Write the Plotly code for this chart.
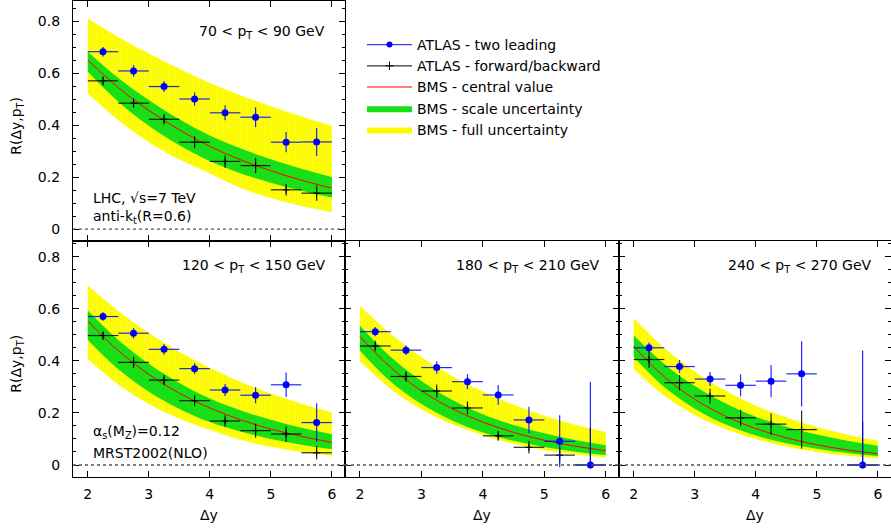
import plotly.graph_objects as go

# ---------------- data ----------------
DY = [2.25, 2.75, 3.25, 3.75, 4.25, 4.75, 5.25, 5.75]
DY_HALF = [0.25, 0.25, 0.25, 0.25, 0.25, 0.25, 0.25, 0.25]
THEORY_DY = [2.0, 2.5, 3.0, 3.5, 4.0, 4.5, 5.0, 5.5, 6.0]

X_TICKS = [2, 3, 4, 5, 6]
X_TICK_LABELS = ["2", "3", "4", "5", "6"]
Y_TICKS = [0, 0.2, 0.4, 0.6, 0.8]
Y_TICK_LABELS = ["0", "0.2", "0.4", "0.6", "0.8"]

PT_LABELS = ["70 < p<sub>T</sub> < 90 GeV", "120 < p<sub>T</sub> < 150 GeV",
             "180 < p<sub>T</sub> < 210 GeV", "240 < p<sub>T</sub> < 270 GeV"]

# 70 < pT < 90
lead_70 = [0.682, 0.608, 0.548, 0.500, 0.447, 0.430, 0.334, 0.335]
lead_70_up = [0.018, 0.022, 0.021, 0.026, 0.029, 0.038, 0.039, 0.054]
lead_70_dn = [0.018, 0.022, 0.021, 0.026, 0.029, 0.038, 0.039, 0.054]
fb_70 = [0.570, 0.484, 0.422, 0.334, 0.260, 0.244, 0.151, 0.138]
fb_70_up = [0.018, 0.018, 0.020, 0.023, 0.024, 0.029, 0.022, 0.029]
fb_70_dn = [0.018, 0.018, 0.020, 0.023, 0.024, 0.029, 0.022, 0.029]
bms_70 = [0.650, 0.544, 0.456, 0.382, 0.318, 0.267, 0.224, 0.188, 0.157]
scale_hi_70 = [0.682, 0.581, 0.496, 0.422, 0.360, 0.311, 0.268, 0.232, 0.200]
scale_lo_70 = [0.605, 0.490, 0.397, 0.322, 0.261, 0.215, 0.178, 0.147, 0.121]
full_hi_70 = [0.810, 0.739, 0.675, 0.616, 0.562, 0.515, 0.472, 0.433, 0.397]
full_lo_70 = [0.522, 0.418, 0.334, 0.268, 0.214, 0.159, 0.119, 0.0885, 0.066]

# 120 < pT < 150
lead_120 = [0.570, 0.506, 0.444, 0.370, 0.288, 0.268, 0.308, 0.163]
lead_120_up = [0.016, 0.020, 0.021, 0.021, 0.023, 0.031, 0.047, 0.074]
lead_120_dn = [0.016, 0.020, 0.021, 0.021, 0.023, 0.031, 0.047, 0.074]
fb_120 = [0.497, 0.394, 0.326, 0.247, 0.169, 0.132, 0.119, 0.047]
fb_120_up = [0.017, 0.022, 0.020, 0.021, 0.022, 0.027, 0.031, 0.026]
fb_120_dn = [0.017, 0.022, 0.020, 0.021, 0.022, 0.027, 0.031, 0.026]
bms_120 = [0.553, 0.439, 0.348, 0.276, 0.219, 0.174, 0.138, 0.110, 0.087]
scale_hi_120 = [0.593, 0.480, 0.389, 0.315, 0.255, 0.210, 0.1735, 0.143, 0.118]
scale_lo_120 = [0.480, 0.3675, 0.2814, 0.2155, 0.165, 0.1287, 0.1003, 0.0782, 0.061]
full_hi_120 = [0.689, 0.591, 0.507, 0.435, 0.373, 0.320, 0.2745, 0.2355, 0.202]
full_lo_120 = [0.407, 0.309, 0.2344, 0.1779, 0.135, 0.097, 0.0697, 0.0501, 0.036]

# 180 < pT < 210
lead_180 = [0.512, 0.441, 0.374, 0.320, 0.269, 0.173, 0.091, 0.0]
lead_180_up = [0.018, 0.019, 0.024, 0.029, 0.038, 0.051, 0.100, 0.320]
lead_180_dn = [0.018, 0.019, 0.024, 0.029, 0.038, 0.051, 0.100, 0.0]
fb_180 = [0.457, 0.340, 0.284, 0.219, 0.112, 0.068, 0.038, 0.0]
fb_180_up = [0.020, 0.020, 0.025, 0.025, 0.019, 0.024, 0.030, 0.145]
fb_180_dn = [0.020, 0.020, 0.025, 0.025, 0.019, 0.024, 0.030, 0.0]
bms_180 = [0.493, 0.375, 0.285, 0.2166, 0.1647, 0.1252, 0.0952, 0.0724, 0.055]
scale_hi_180 = [0.535, 0.4157, 0.323, 0.251, 0.195, 0.154, 0.1217, 0.0962, 0.076]
scale_lo_180 = [0.439, 0.3207, 0.2343, 0.1711, 0.125, 0.0928, 0.0689, 0.0512, 0.038]
full_hi_180 = [0.611, 0.5036, 0.415, 0.342, 0.282, 0.231, 0.1892, 0.155, 0.127]
full_lo_180 = [0.399, 0.2923, 0.2142, 0.157, 0.115, 0.0815, 0.0578, 0.0409, 0.029]

# 240 < pT < 270
lead_240 = [0.450, 0.378, 0.330, 0.306, 0.322, 0.350, None, 0.0]
lead_240_up = [0.020, 0.025, 0.027, 0.042, 0.062, 0.125, None, 0.440]
lead_240_dn = [0.020, 0.025, 0.027, 0.042, 0.062, 0.125, None, 0.0]
fb_240 = [0.405, 0.316, 0.265, 0.181, 0.157, 0.136, None, 0.0]
fb_240_up = [0.032, 0.029, 0.029, 0.031, 0.041, 0.073, None, 0.166]
fb_240_dn = [0.032, 0.029, 0.029, 0.031, 0.041, 0.073, None, 0.0]
bms_240 = [0.455, 0.3388, 0.2523, 0.1878, 0.1399, 0.1041, 0.0776, 0.0578, 0.043]
scale_hi_240 = [0.497, 0.3882, 0.3032, 0.2368, 0.185, 0.1471, 0.117, 0.0931, 0.074]
scale_lo_240 = [0.414, 0.2992, 0.2163, 0.1563, 0.113, 0.0837, 0.062, 0.0459, 0.034]
full_hi_240 = [0.563, 0.4491, 0.3583, 0.2858, 0.228, 0.1822, 0.1456, 0.1164, 0.093]
full_lo_240 = [0.369, 0.2662, 0.1921, 0.1386, 0.100, 0.0707, 0.050, 0.0354, 0.025]

panels = [
    dict(ax="", lead=lead_70, lup=lead_70_up, ldn=lead_70_dn, fb=fb_70, fup=fb_70_up, fdn=fb_70_dn,
         c=bms_70, shi=scale_hi_70, slo=scale_lo_70, fhi=full_hi_70, flo=full_lo_70),
    dict(ax="2", lead=lead_120, lup=lead_120_up, ldn=lead_120_dn, fb=fb_120, fup=fb_120_up, fdn=fb_120_dn,
         c=bms_120, shi=scale_hi_120, slo=scale_lo_120, fhi=full_hi_120, flo=full_lo_120),
    dict(ax="3", lead=lead_180, lup=lead_180_up, ldn=lead_180_dn, fb=fb_180, fup=fb_180_up, fdn=fb_180_dn,
         c=bms_180, shi=scale_hi_180, slo=scale_lo_180, fhi=full_hi_180, flo=full_lo_180),
    dict(ax="4", lead=lead_240, lup=lead_240_up, ldn=lead_240_dn, fb=fb_240, fup=fb_240_up, fdn=fb_240_dn,
         c=bms_240, shi=scale_hi_240, slo=scale_lo_240, fhi=full_hi_240, flo=full_lo_240),
]

YELLOW = "#ffff00"
GREEN = "#14e214"
RED = "#ff0000"
BLUE = "#0000ff"
FONT = "DejaVu Sans, Arial, sans-serif"

fig = go.Figure()

for i, p in enumerate(panels):
    xa, ya = "x" + p["ax"], "y" + p["ax"]
    first = (i == 0)
    # full uncertainty band
    fig.add_trace(go.Scatter(x=THEORY_DY, y=p["flo"], xaxis=xa, yaxis=ya, mode="lines",
                             line=dict(width=0, shape="spline", color=YELLOW), showlegend=False,
                             hoverinfo="skip"))
    fig.add_trace(go.Scatter(x=THEORY_DY, y=p["fhi"], xaxis=xa, yaxis=ya, mode="lines",
                             line=dict(width=0, shape="spline", color=YELLOW), fill="tonexty",
                             fillcolor=YELLOW,
                             fillpattern=dict(shape="|", size=3, solidity=0.3, fgcolor="#eaea3a",
                                              bgcolor=YELLOW),
                             name="BMS - full uncertainty", showlegend=first, legendrank=5))
    # scale uncertainty band
    fig.add_trace(go.Scatter(x=THEORY_DY, y=p["slo"], xaxis=xa, yaxis=ya, mode="lines",
                             line=dict(width=0, shape="spline", color=GREEN), showlegend=False,
                             hoverinfo="skip"))
    fig.add_trace(go.Scatter(x=THEORY_DY, y=p["shi"], xaxis=xa, yaxis=ya, mode="lines",
                             line=dict(width=0, shape="spline", color=GREEN), fill="tonexty",
                             fillcolor=GREEN,
                             fillpattern=dict(shape="|", size=3, solidity=0.3, fgcolor="#2ccc2c",
                                              bgcolor=GREEN),
                             name="BMS - scale uncertainty", showlegend=first, legendrank=4))
    # central value
    fig.add_trace(go.Scatter(x=THEORY_DY, y=p["c"], xaxis=xa, yaxis=ya, mode="lines",
                             line=dict(width=1, shape="spline", color=RED),
                             name="BMS - central value", showlegend=first, legendrank=3))
    # forward/backward
    fig.add_trace(go.Scatter(x=DY, y=p["fb"], xaxis=xa, yaxis=ya, mode="markers",
                             marker=dict(symbol="cross-thin", size=5, color="black",
                                         line=dict(width=1, color="black")),
                             error_x=dict(type="data", array=DY_HALF, width=0, thickness=1.2,
                                          color="rgba(0,0,0,0.85)"),
                             error_y=dict(type="data", array=p["fup"], arrayminus=p["fdn"], width=0,
                                          thickness=1.2, color="rgba(0,0,0,0.85)"),
                             showlegend=False))
    # two leading
    fig.add_trace(go.Scatter(x=DY, y=p["lead"], xaxis=xa, yaxis=ya, mode="markers",
                             marker=dict(symbol="circle", size=7, color=BLUE),
                             error_x=dict(type="data", array=DY_HALF, width=0, thickness=1.2,
                                          color="rgba(0,0,255,0.85)"),
                             error_y=dict(type="data", array=p["lup"], arrayminus=p["ldn"], width=0,
                                          thickness=1.2, color="rgba(0,0,255,0.85)"),
                             showlegend=False))

# legend-only entries for the data series
fig.add_trace(go.Scatter(x=[None], y=[None], mode="lines+markers", name="ATLAS - two leading",
                         line=dict(color="rgba(60,60,255,1)", width=1.2),
                         marker=dict(size=6, color=BLUE), legendrank=1))
fig.add_trace(go.Scatter(x=[None], y=[None], mode="lines+markers", name="ATLAS - forward/backward",
                         line=dict(color="#333333", width=1.2),
                         marker=dict(symbol="cross-thin", size=6, color="black",
                                     line=dict(width=1, color="black")), legendrank=2))

# ---------------- layout ----------------
W, H = 891, 528
ML, MB = 73, 51
PW, PH = W - ML, H - MB
c1 = (345 - ML) / PW
c2 = (619 - ML) / PW
r_mid = (PH - 241) / PH
r_top = (PH - 1) / PH

XR = [1.758, 6.215]
YR_TOP = [-0.046, 0.877]
YR_BOT = [-0.046, 0.860]

common = dict(showline=True, linecolor="black", linewidth=1.3, mirror="allticks",
              ticks="inside", ticklen=6, tickwidth=1, tickcolor="black",
              showgrid=False, zeroline=False,
              tickfont=dict(family=FONT, size=14, color="black"))

def xaxis(domain, anchor, labels):
    return dict(common, domain=domain, anchor=anchor, range=XR, tickmode="array",
                tickvals=X_TICKS, ticktext=X_TICK_LABELS, showticklabels=labels,
                ticklabelstandoff=4)

def yaxis(domain, anchor, labels, rng):
    return dict(common, domain=domain, anchor=anchor, range=rng, tickmode="array",
                tickvals=Y_TICKS, ticktext=Y_TICK_LABELS, showticklabels=labels,
                ticklabelstandoff=9,
                minor=dict(tickmode="linear", tick0=0, dtick=0.05, ticks="inside", ticklen=3,
                           tickcolor="black", showgrid=False))

fig.update_layout(
    width=W, height=H,
    margin=dict(l=ML, r=0, t=0, b=MB),
    paper_bgcolor="white", plot_bgcolor="white",
    font=dict(family=FONT, size=14, color="black"),
    xaxis=xaxis([0, c1], "y", False),
    yaxis=yaxis([r_mid, r_top], "x", True, YR_TOP),
    xaxis2=xaxis([0, c1], "y2", True),
    yaxis2=yaxis([0, r_mid], "x2", True, YR_BOT),
    xaxis3=xaxis([c1, c2], "y3", True),
    yaxis3=yaxis([0, r_mid], "x3", False, YR_BOT),
    xaxis4=xaxis([c2, 1], "y4", True),
    yaxis4=yaxis([0, r_mid], "x4", False, YR_BOT),
    legend=dict(x=(362 - ML) / PW, y=(PH - 29) / PH, xanchor="left", yanchor="top",
                bgcolor="rgba(0,0,0,0)", font=dict(family=FONT, size=14, color="black"),
                tracegroupgap=0, traceorder="normal", itemwidth=45),
    showlegend=True,
)

shapes = []
annotations = []
for i, p in enumerate(panels):
    ax = p["ax"]
    shapes.append(dict(type="line", xref="x%s domain" % ax, yref="y" + ax, x0=0, x1=1, y0=0, y1=0,
                       line=dict(color="#555555", width=1.3, dash="dot"), layer="above"))
    annotations.append(dict(text=PT_LABELS[i], xref="x%s domain" % ax, yref="y%s domain" % ax,
                            x=0.935, y=0.895 if i else 0.872, xanchor="right", yanchor="middle",
                            showarrow=False, font=dict(family=FONT, size=14, color="black")))

txt = dict(showarrow=False, xanchor="left", yanchor="middle", font=dict(family=FONT, size=14, color="black"))
annotations += [
    dict(txt, text="LHC, √s=7 TeV", xref="x domain", yref="y", x=0.065, y=0.12),
    dict(txt, text="anti-k<sub>t</sub>(R=0.6)", xref="x domain", yref="y", x=0.065, y=0.045),
    dict(txt, text="α<sub>s</sub>(M<sub>Z</sub>)=0.12", xref="x2 domain", yref="y2", x=0.065, y=0.128),
    dict(txt, text="MRST2002(NLO)", xref="x2 domain", yref="y2", x=0.065, y=0.045),
]
# axis titles
for ya in ["y", "y2"]:
    annotations.append(dict(text="R(Δy,p<sub>T</sub>)", xref="paper", yref="%s domain" % ya,
                            x=(17 - ML) / PW, y=0.48, xanchor="center", yanchor="middle",
                            textangle=-90, showarrow=False,
                            font=dict(family=FONT, size=14, color="black")))
for xa in ["x2", "x3", "x4"]:
    annotations.append(dict(text="Δy", xref="%s domain" % xa, yref="paper", x=0.5,
                            y=-(515 - PH) / PH, xanchor="center", yanchor="middle",
                            showarrow=False, font=dict(family=FONT, size=14, color="black")))

fig.update_layout(shapes=shapes, annotations=annotations)
fig.write_html("out.html", config={"displayModeBar": False},
               post_script="document.body.style.margin='0px';")
